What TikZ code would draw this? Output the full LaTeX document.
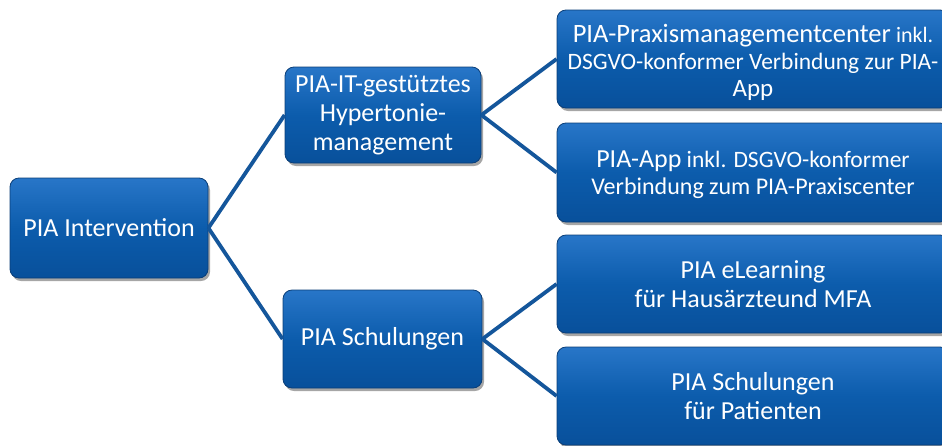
\documentclass[tikz,border=0pt]{standalone}
\usepackage{fontspec}
\setmainfont{Carlito}
\usetikzlibrary{shadows}
\definecolor{boxtop}{RGB}{40,118,200}
\definecolor{boxmid}{RGB}{12,92,172}
\definecolor{boxbot}{RGB}{8,80,155}
\definecolor{boxline}{RGB}{10,62,120}
\definecolor{conn}{RGB}{20,86,155}
\tikzset{
  pbox/.style={rectangle, rounded corners=9pt, draw=boxline, line width=0.8pt,
    top color=boxtop, bottom color=boxbot, middle color=boxmid,
    text=white, align=center, inner sep=2pt,
    drop shadow={shadow xshift=2pt, shadow yshift=-3pt, opacity=0.35, fill=black}},
  big/.style={font=\fontsize{26}{29}\selectfont},
  mid/.style={font=\fontsize{23.5}{27}\selectfont},
  conline/.style={draw=conn, line width=3.8pt}
}
\newcommand{\bigsz}{\fontsize{26.5}{27}\selectfont}
\newcommand{\smsz}{\fontsize{22}{27}\selectfont}
\begin{document}
\begin{tikzpicture}[x=1pt,y=-1pt]
\useasboundingbox (0,0) rectangle (942,445);
\clip (0,0) rectangle (942,445);
\node[pbox, big, minimum width=198pt, minimum height=100pt] (root) at (109,228) {PIA Intervention};
\node[pbox, big, minimum width=196pt, minimum height=96pt] (m1) at (383,115) {PIA-IT-gestütztes\\Hypertonie-\\management};
\node[pbox, big, minimum width=199pt, minimum height=98pt] (m2) at (382.5,339) {PIA Schulungen};
\node[pbox, mid, minimum width=392pt, minimum height=98pt] (r1) at (753,59) {\rule{0pt}{26pt}{\bigsz PIA-Praxismanagementcenter} {\smsz inkl.}\\DSGVO-konformer Verbindung zur PIA-\\{\fontsize{25}{27}\selectfont App}};
\node[pbox, mid, minimum width=392pt, minimum height=99pt] (r2) at (753,172.5) {\rule{0pt}{22pt}{\fontsize{26}{27}\selectfont PIA-App} {\fontsize{23.5}{27}\selectfont inkl. DSGVO-konformer}\\{\fontsize{24}{27}\selectfont Verbindung zum PIA-Praxiscenter}};
\node[pbox, big, minimum width=392pt, minimum height=98pt] (r3) at (753,284) {PIA eLearning\\für Hausärzteund MFA};
\node[pbox, big, minimum width=392pt, minimum height=98pt] (r4) at (753,396) {PIA Schulungen\\für Patienten};
\draw[conline] (root.east) -- (m1.west);
\draw[conline] (root.east) -- (m2.west);
\draw[conline] (m1.east) -- (r1.west);
\draw[conline] (m1.east) -- (r2.west);
\draw[conline] (m2.east) -- (r3.west);
\draw[conline] (m2.east) -- (r4.west);
\end{tikzpicture}
\end{document}
